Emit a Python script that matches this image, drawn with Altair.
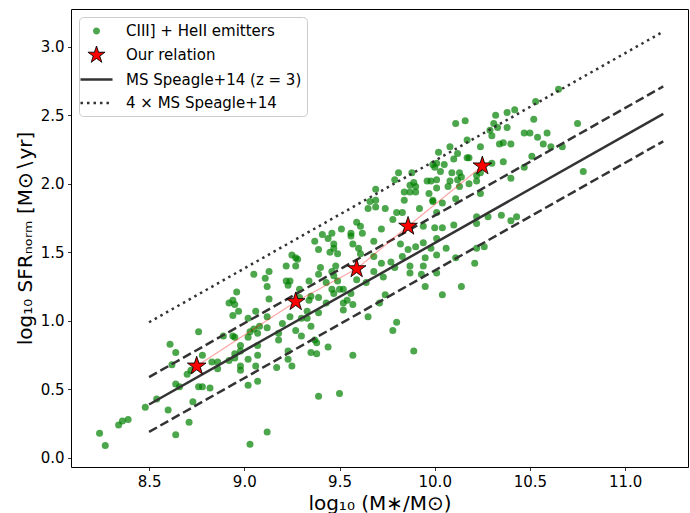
import altair as alt
import pandas as pd

# ---- CIII] + HeII emitters (log10 M*, log10 SFR_norm) ----
emit_x = [
    8.24, 8.27, 8.34, 8.36, 8.39, 8.48, 8.54, 8.60, 8.64, 8.71,
    8.73, 8.61, 8.64, 8.62, 8.64, 8.66, 8.70, 8.72, 8.78, 8.76,
    8.76, 8.78, 8.82, 8.83, 8.86, 8.86, 8.92, 8.95, 8.98, 8.98,
    8.95, 8.98, 8.94, 8.95, 8.89, 9.02, 9.02, 9.07, 9.06, 9.07,
    9.03, 9.12, 9.17, 9.07, 9.02, 9.03, 8.98, 9.05, 9.07, 9.08,
    9.12, 9.12, 9.18, 9.18, 9.20, 9.06, 9.02, 8.92, 8.94, 8.97,
    8.95,
    9.69, 9.66, 9.69, 9.74, 9.80, 9.78, 9.59, 9.61, 9.62, 9.56,
    9.56, 9.57, 9.51, 9.46, 9.41, 9.44, 9.37, 9.47, 9.47, 9.39,
    9.45, 9.49, 9.60, 9.61, 9.68, 9.72, 9.68, 9.72, 9.77, 9.68,
    9.73, 9.79, 9.78, 9.80, 9.65, 9.71, 9.74, 9.64, 9.59, 9.56,
    9.57, 9.54, 9.52, 9.52, 9.52, 9.50, 9.47, 9.46, 9.49, 9.43,
    9.47, 9.48, 9.46, 9.40, 9.39, 9.34, 9.39, 9.35, 9.39, 9.29,
    9.29, 9.24, 9.22, 9.23, 9.27, 9.25, 9.27, 9.28, 9.22, 9.13,
    9.11, 9.05, 9.12, 9.13, 8.96, 8.94, 9.24, 9.27, 9.33, 9.30,
    9.35, 9.37, 9.38, 9.35, 9.38, 9.23, 9.23, 9.57, 9.44,
    9.25, 9.39, 9.50, 9.89, 9.43, 9.34, 9.30, 9.33,
    10.11, 10.16, 10.31, 10.33, 10.52, 10.30, 10.47, 10.50, 10.54, 10.59,
    10.57, 10.61, 10.34, 10.36, 10.40, 10.24, 10.08, 10.12, 10.02, 10.17,
    10.18, 10.10, 10.05, 10.01, 10.00, 10.03, 10.09, 10.13, 10.14, 10.36,
    10.47, 10.40, 10.22, 10.22, 10.24, 10.18, 10.13, 10.08, 10.07, 10.01,
    10.01, 9.98, 9.97, 9.99, 10.04, 10.11, 9.89, 9.87, 9.90, 9.87,
    9.90, 9.84, 9.84, 9.88, 9.81, 9.79, 9.96, 9.99, 10.12, 9.69,
    9.65, 9.83, 9.92, 9.99, 10.01, 10.10, 10.22, 10.22, 10.28, 10.35,
    10.40, 10.43, 10.21, 10.26, 10.22, 10.14, 10.06, 10.01, 9.98, 10.01,
    9.95, 9.94, 9.94, 9.90, 9.86, 9.82, 9.83, 9.94, 10.04, 10.00,
    9.87, 9.93, 10.01,
    10.65, 10.53, 10.42, 10.38, 10.32, 10.75, 10.38, 10.29, 10.17, 10.67,
    10.51, 10.30, 10.24, 10.78,
    9.87, 10.11, 9.95, 10.04,
]
emit_y = [
    0.18, 0.09, 0.24, 0.27, 0.28, 0.37, 0.43, 0.35, 0.17, 0.26,
    0.41, 0.83, 0.77, 0.68, 0.54, 0.52, 0.61, 0.64, 0.75, 0.92,
    0.52, 0.52, 0.51, 0.70, 0.65, 0.70, 0.71, 0.73, 0.67, 0.64,
    0.76, 0.78, 0.89, 0.88, 0.89, 0.72, 0.53, 0.75, 0.67, 0.56,
    0.10, 0.19, 0.66, 0.82, 0.88, 0.92, 0.82, 0.94, 0.91, 0.96,
    0.95, 1.03, 0.86, 0.91, 0.98, 1.07, 1.02, 1.13, 1.04, 1.07,
    1.12,
    1.96, 1.87, 1.83, 1.82, 1.79, 1.74, 1.72, 1.69, 1.64, 1.64,
    1.62, 1.56, 1.67, 1.64, 1.63, 1.60, 1.58, 1.56, 1.53, 1.52,
    1.50, 1.49, 1.53, 1.49, 1.58, 1.67, 1.47, 1.42, 1.43, 1.36,
    1.32, 1.39, 0.93, 0.99, 1.03, 1.13, 1.19, 1.28, 1.30, 1.20,
    1.12, 1.15, 1.13, 1.08, 1.23, 1.23, 1.20, 1.23, 1.29, 1.28,
    1.33, 1.40, 1.36, 1.39, 1.34, 1.29, 1.17, 1.18, 1.06, 1.17,
    1.23, 1.29, 1.29, 1.26, 1.40, 1.48, 1.46, 1.45, 1.40, 1.36,
    1.31, 1.34, 1.25, 1.16, 1.21, 1.15, 1.03, 0.93, 1.02, 0.89,
    0.96, 0.86, 0.84, 0.77, 0.76, 0.78, 0.72, 0.75, 0.81,
    0.67, 0.45, 0.47, 0.78, 1.13, 1.15, 1.02, 1.07,
    2.44, 2.46, 2.44, 2.41, 2.47, 2.35, 2.37, 2.37, 2.34, 2.37,
    2.29, 2.27, 2.29, 2.30, 2.29, 2.27, 2.27, 2.22, 2.23, 2.19,
    2.19, 2.18, 2.14, 2.15, 2.12, 2.09, 2.08, 2.08, 2.05, 2.16,
    2.12, 2.04, 2.06, 2.02, 1.93, 2.00, 1.98, 2.02, 1.98, 2.03,
    1.97, 2.02, 1.93, 1.88, 1.86, 1.89, 2.01, 1.99, 1.98, 1.94,
    1.94, 1.94, 1.88, 2.08, 2.08, 2.03, 2.02, 2.14, 2.03, 1.88,
    1.82, 1.79, 1.82, 1.87, 1.79, 1.70, 1.76, 1.71, 1.76, 1.77,
    1.73, 1.76, 1.42, 1.54, 1.53, 1.25, 1.53, 1.60, 1.53, 1.48,
    1.46, 1.40, 1.57, 1.54, 1.52, 1.56, 1.47, 1.69, 1.68, 1.68,
    1.40, 1.34, 1.35,
    2.69, 2.60, 2.54, 2.52, 2.50, 2.44, 2.41, 2.39, 2.32, 2.27,
    2.20, 2.15, 2.08, 2.09,
    1.35, 1.46, 1.25, 1.19,
]

# ---- Our relation (binned stars) ----
star_x = [8.75, 9.27, 9.59, 9.86, 10.25]
star_y = [0.67, 1.14, 1.38, 1.69, 2.13]

# ---- Main sequence lines (Speagle+14, z=3), end points ----
ms_x = [8.5, 11.2]
ms_y = [0.39, 2.51]
ms_hi_y = [0.59, 2.71]
ms_lo_y = [0.19, 2.31]
ms4_y = [0.99, 3.11]

x_ticks = [8.5, 9.0, 9.5, 10.0, 10.5, 11.0]
y_ticks = [0.0, 0.5, 1.0, 1.5, 2.0, 2.5, 3.0]

legend_labels = ["CIII] + HeII emitters", "Our relation",
                 "MS Speagle+14 (z = 3)", "4 ×  MS Speagle+14"]

STAR_PATH = ("M0,-1L0.225,-0.309L0.951,-0.309L0.363,0.118L0.588,0.809L0,0.382"
             "L-0.588,0.809L-0.363,0.118L-0.951,-0.309L-0.225,-0.309Z")
DOT_PATH = "M0.39,0A0.39,0.39,0,1,1,-0.39,0A0.39,0.39,0,1,1,0.39,0Z"
LINE_PATH = "M-1.78,0H1.78"

FONT = "DejaVu Sans"
DARK = "#333333"

xs = alt.Scale(domain=[8.09, 11.33], nice=False, zero=False)
ys = alt.Scale(domain=[-0.066, 3.275], nice=False, zero=False)
X = alt.X("x:Q", scale=xs,
          axis=alt.Axis(title="log₁₀ (M∗/M⊙)", values=x_ticks, format=".1f",
                        titlePadding=4, labelFlush=False))
Y = alt.Y("y:Q", scale=ys,
          axis=alt.Axis(title="log₁₀ SFRₙₒᵣₘ [M⊙∖yr]", values=y_ticks, format=".1f",
                        titlePadding=5, labelFlush=False))

emit_df = pd.DataFrame({"x": emit_x, "y": emit_y})
star_df = pd.DataFrame({"x": star_x, "y": star_y, "series": legend_labels[1]})
line_df = pd.DataFrame({
    "x": ms_x * 4,
    "y": ms_y + ms_hi_y + ms_lo_y + ms4_y,
    "line": ["ms"] * 2 + ["hi"] * 2 + ["lo"] * 2 + ["x4"] * 2,
})

scatter = alt.Chart(emit_df).mark_circle(size=49, color="#008000", opacity=0.7).encode(X, Y)

solid = alt.Chart(line_df).transform_filter(alt.datum.line == "ms").mark_line(
    color=DARK, strokeWidth=2.5).encode(X, Y)
dashed = alt.Chart(line_df).transform_filter(
    (alt.datum.line == "hi") | (alt.datum.line == "lo")).mark_line(
    color=DARK, strokeWidth=2.5, strokeDash=[9, 4]).encode(X, Y, detail="line:N")
dotted = alt.Chart(line_df).transform_filter(alt.datum.line == "x4").mark_line(
    color=DARK, strokeWidth=2.5, strokeDash=[2.5, 4]).encode(X, Y)

connect = alt.Chart(star_df).mark_line(color="red", opacity=0.35, strokeWidth=1.2).encode(X, Y)

leg = alt.Legend(title=None)
stars = alt.Chart(star_df).mark_point(filled=True, size=380, opacity=1).encode(
    X, Y,
    fill=alt.Fill("series:N", legend=leg, scale=alt.Scale(
        domain=legend_labels, range=["#4da64d", "red", DARK, DARK])),
    stroke=alt.Stroke("series:N", legend=leg, scale=alt.Scale(
        domain=legend_labels, range=["#4da64d", "black", DARK, DARK])),
    shape=alt.Shape("series:N", legend=leg, scale=alt.Scale(
        domain=legend_labels, range=[DOT_PATH, STAR_PATH, LINE_PATH, LINE_PATH])),
    strokeDash=alt.StrokeDash("series:N", legend=leg, scale=alt.Scale(
        domain=legend_labels, range=[[1, 0], [1, 0], [1, 0], [2.5, 4]])),
    strokeWidth=alt.StrokeWidth("series:N", legend=leg, scale=alt.Scale(
        type="ordinal", domain=legend_labels, range=[0, 1, 2.5, 2.5])),
)

chart = alt.layer(scatter, solid, dashed, dotted, connect, stars).properties(
    width=617, height=458,
    padding={"left": 71, "top": 9, "right": 2, "bottom": 46},
    autosize=alt.AutoSizeParams(type="none"),
    background="white",
).configure_view(
    stroke="black", strokeWidth=1
).configure_axis(
    grid=False, domain=False, tickColor="black", tickSize=3.5, tickWidth=0.8,
    labelFont=FONT, labelFontSize=15, labelColor="black", labelPadding=3.5,
    titleFont=FONT, titleFontSize=20, titleFontWeight="normal", titleColor="black",
).configure_legend(
    orient="top-left", offset=8, padding=5, strokeColor="#cccccc",
    fillColor="rgba(255,255,255,0.8)", cornerRadius=4,
    labelFont=FONT, labelFontSize=15, labelColor="black", labelLimit=400,
    symbolSize=324, rowPadding=4.5, labelOffset=19, symbolOffset=2,
)

chart.save("out.html", embed_options={"renderer": "svg", "actions": False})
